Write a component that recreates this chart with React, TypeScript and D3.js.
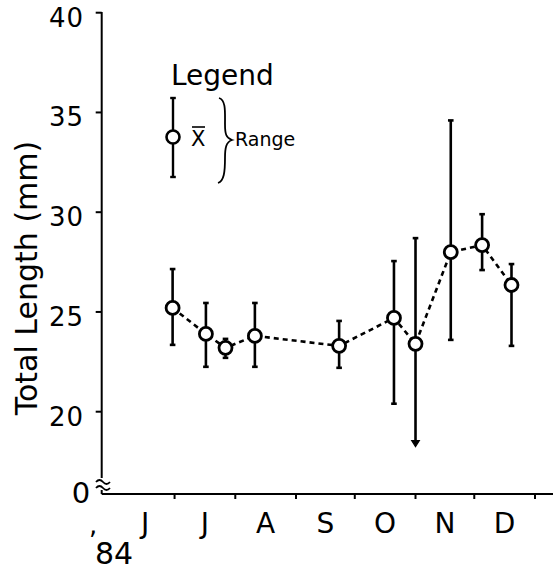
import React from "react";
import * as d3 from "d3";

// ---- data ----
const sampleDates = [
  "1984-06-30", "1984-07-17", "1984-07-27", "1984-08-11", "1984-09-23",
  "1984-10-21", "1984-11-01", "1984-11-19", "1984-12-05", "1984-12-20",
];
const meanLength = [25.2, 23.9, 23.2, 23.8, 23.3, 24.7, 23.4, 28.0, 28.35, 26.35];
const maxLength = [27.15, 25.45, 23.65, 25.45, 24.55, 27.55, 28.7, 34.6, 29.9, 27.4];
const minLength = [23.35, 22.25, 22.7, 22.25, 22.2, 20.4, 18.4, 23.6, 27.1, 23.3];
const yTicks = [20, 25, 30, 35, 40];
const monthLabels = ["J", "J", "A", "S", "O", "N", "D"];
const yearLabel = "84";
const yTitle = "Total Length (mm)";

const parse = d3.timeParse("%Y-%m-%d");
const FONT = "'DejaVu Sans', sans-serif";

export default function App() {
  const x = d3
    .scaleTime()
    .domain([parse("1984-06-01")!, parse("1985-01-01")!])
    .range([115.8, 535]);
  const y = d3.scaleLinear().domain([20, 40]).range([411.7, 12.7]);

  const axisX = 101.7;
  const axisY = 494;

  const monthStarts = d3.timeMonth.range(parse("1984-06-01")!, parse("1985-01-02")!);
  const tickDates = monthStarts.slice(1);
  const monthMids = monthStarts.slice(0, 7).map((d, i) => {
    const next = monthStarts[i + 1];
    return new Date((d.getTime() + next.getTime()) / 2);
  });

  const pts = sampleDates.map((s, i) => ({
    x: x(parse(s)!),
    m: meanLength[i],
    hi: maxLength[i],
    lo: minLength[i],
  }));

  const line = d3
    .line<{ x: number; m: number }>()
    .x((d) => d.x)
    .y((d) => y(d.m));

  const capW = 2.8;
  const r = 6.5;

  return (
    <svg
      width={555}
      height={571}
      style={{ position: "absolute", left: 0, top: 0, background: "#fff" }}
      fontFamily={FONT}
    >
      <rect width={555} height={571} fill="#fff" />
      {/* y axis */}
      <line x1={axisX} x2={axisX} y1={12} y2={478} stroke="#000" strokeWidth={2} />
      <path d="M96,482 q3.5,-4 7,0 t7,0" fill="none" stroke="#000" strokeWidth={1.8} />
      <path d="M96,488 q3.5,-4 7,0 t7,0" fill="none" stroke="#000" strokeWidth={1.8} />
      <line x1={axisX} x2={axisX} y1={490} y2={axisY} stroke="#000" strokeWidth={2} />
      {yTicks.map((t) => (
        <g key={t}>
          <line x1={axisX - 6} x2={axisX} y1={y(t)} y2={y(t)} stroke="#000" strokeWidth={2} />
          <text x={84} y={y(t) + 14} fontSize={26} letterSpacing={1} textAnchor="end" fill="#000">
            {t}
          </text>
        </g>
      ))}
      <text x={81} y={503} fontSize={29} textAnchor="middle" fill="#000">0</text>
      <text
        transform={`translate(37,278) rotate(-90)`}
        fontSize={30}
        textAnchor="middle"
        fill="#000"
      >
        {yTitle}
      </text>

      {/* x axis */}
      <line x1={axisX} x2={553} y1={axisY} y2={axisY} stroke="#000" strokeWidth={2} />
      {tickDates.map((d, i) => (
        <line key={i} x1={x(d)} x2={x(d)} y1={axisY} y2={axisY + 5} stroke="#000" strokeWidth={2} />
      ))}
      {monthMids.map((d, i) => (
        <text key={i} x={x(d)} y={533} fontSize={28} textAnchor="middle" fill="#000">
          {monthLabels[i]}
        </text>
      ))}
      <text x={89} y={534} fontSize={26} fill="#000">,</text>
      <text x={114} y={564} fontSize={30} textAnchor="middle" fill="#000">{yearLabel}</text>

      {/* dashed mean line */}
      <path
        d={line(pts) || ""}
        fill="none"
        stroke="#000"
        strokeWidth={2.6}
        strokeDasharray="5,4"
      />

      {/* range bars */}
      {pts.map((p, i) => (
        <g key={i}>
          <line x1={p.x} x2={p.x} y1={y(p.hi)} y2={y(p.lo)} stroke="#000" strokeWidth={2.6} />
          <line x1={p.x - capW} x2={p.x + capW} y1={y(p.hi)} y2={y(p.hi)} stroke="#000" strokeWidth={2.6} />
          {p.lo < 20 ? (
            <path
              d={`M${p.x - 3.8},${y(p.lo) - 3} L${p.x + 3.8},${y(p.lo) - 3} L${p.x},${y(p.lo) + 3} Z`}
              fill="#000"
              stroke="#000"
              strokeWidth={1.2}
            />
          ) : (
            <line x1={p.x - capW} x2={p.x + capW} y1={y(p.lo)} y2={y(p.lo)} stroke="#000" strokeWidth={2.6} />
          )}
          <circle cx={p.x} cy={y(p.m)} r={r} fill="#fff" stroke="#000" strokeWidth={2.8} />
        </g>
      ))}

      {/* legend */}
      <text x={171} y={85} fontSize={28} fill="#000">Legend</text>
      <line x1={173} x2={173} y1={98} y2={177} stroke="#000" strokeWidth={2.4} />
      <line x1={173 - capW} x2={173 + capW} y1={98} y2={98} stroke="#000" strokeWidth={2.4} />
      <line x1={173 - capW} x2={173 + capW} y1={177} y2={177} stroke="#000" strokeWidth={2.4} />
      <circle cx={173} cy={137} r={r} fill="#fff" stroke="#000" strokeWidth={2.6} />
      <text x={191} y={146} fontSize={21} fill="#000">X</text>
      <line x1={192} x2={205} y1={127} y2={127} stroke="#000" strokeWidth={1.6} />
      <path
        d="M219,98 C226,100 225,112 225,124 C225,134 226,138 232,140 C226,142 225,148 225,158 C225,172 224,181 218,183"
        fill="none"
        stroke="#000"
        strokeWidth={1.8}
      />
      <text x={235} y={146} fontSize={19} fill="#000">Range</text>
    </svg>
  );
}
